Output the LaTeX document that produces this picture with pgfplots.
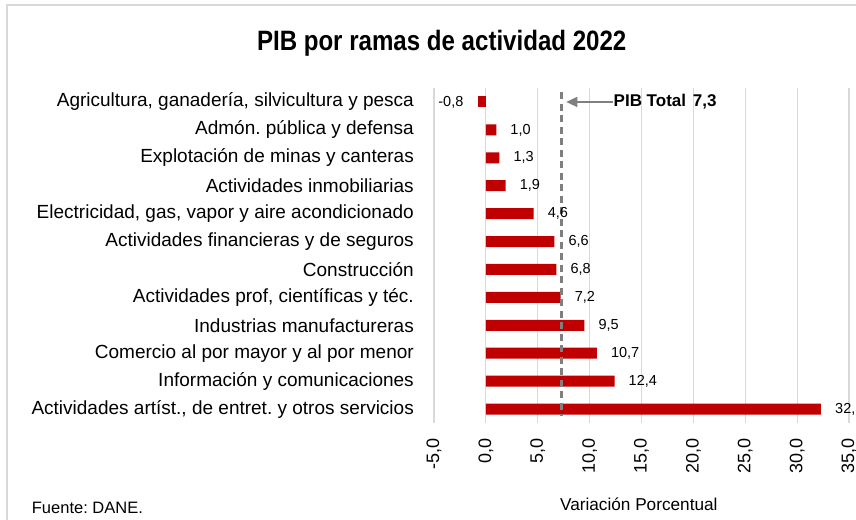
\documentclass[border=0pt]{standalone}
\usepackage{fontspec}
\setmainfont{Liberation Sans}
\newfontfamily\titlefont[FakeStretch=0.86]{Liberation Sans}
\usepackage{pgfplots}
\pgfplotsset{compat=1.18}
\usetikzlibrary{arrows.meta}
\definecolor{barred}{HTML}{C00000}
\definecolor{gridgray}{HTML}{D9D9D9}
\definecolor{lineg}{HTML}{7F7F7F}

\begin{document}
\frenchspacing
\begin{tikzpicture}
\useasboundingbox (0,0) rectangle (856bp,520bp);
\draw[gridgray, line width=1.2bp] (7bp,-5bp) -- (7bp,515bp) -- (870bp,515bp);
\node[font=\titlefont\bfseries\fontsize{28bp}{30bp}\selectfont, anchor=base] at (441.7bp,469bp) {PIB por ramas de actividad 2022};
\node[font=\fontsize{16.5bp}{18bp}\selectfont, anchor=base west, inner sep=0pt] at (31.7bp,7bp) {Fuente: DANE.};
\node[font=\fontsize{17.2bp}{19bp}\selectfont, anchor=base, inner sep=0pt] at (638.8bp,10bp) {Variación Porcentual};

\begin{axis}[
 at={(434bp,97bp)}, anchor=south west,
 scale only axis, width=415bp, height=335bp,
 xmin=-5, xmax=35, ymin=-0.5, ymax=11.5, y dir=reverse,
 xtick={-5,0,...,35}, ytick={0,...,11},
 yticklabels={
  {Agricultura, ganadería, silvicultura y pesca},
  {Admón. pública y defensa},
  {Explotación de minas y canteras},
  {Actividades inmobiliarias},
  {Electricidad, gas, vapor y aire acondicionado},
  {Actividades financieras y de seguros},
  {Construcción},
  {Actividades prof, científicas y téc.},
  {Industrias manufactureras},
  {Comercio al por mayor y al por menor},
  {Información y comunicaciones},
  {Actividades artíst., de entret. y otros servicios}},
 xmajorgrids, major grid style={gridgray, line width=1.2bp},
 axis line style={draw=none}, tick style={draw=none},
 /pgf/number format/fixed, /pgf/number format/fixed zerofill,
 /pgf/number format/precision=1, /pgf/number format/use comma,
 /pgf/number format/assume math mode=true,
 xticklabel style={rotate=90, anchor=east, inner sep=0pt, font=\fontsize{18bp}{20bp}\selectfont},
 xticklabel shift=15bp,
 yticklabel style={anchor=east, inner sep=0pt, font=\fontsize{19bp}{21bp}\selectfont},
 yticklabel shift=20bp,
 bar width=11bp,
 clip=false,
]
\addplot[xbar, bar shift=0pt, fill=barred, draw=none, nodes near coords,
  nodes near coords style={anchor=west, xshift=14bp, inner sep=0pt, text=black, font=\fontsize{14.5bp}{16bp}\selectfont}]
  coordinates {(1.0,1) (1.3,2) (1.9,3) (4.6,4) (6.6,5) (6.8,6) (7.2,7) (9.5,8) (10.7,9) (12.4,10) (32.3,11)};
\addplot[xbar, bar shift=0pt, fill=barred, draw=none, nodes near coords,
  nodes near coords style={anchor=east, xshift=-14bp, inner sep=0pt, text=black, font=\fontsize{14.5bp}{16bp}\selectfont}]
  coordinates {(-0.8,0)};
\addplot[sharp plot, lineg, line width=3bp, dash pattern=on 7bp off 4.5bp, mark=none]
  coordinates {(7.3,-0.35) (7.3,11.25)};
\draw[lineg, line width=1.5bp, -{Triangle[length=11bp,width=10bp]}] (axis cs:12.3,0) -- (axis cs:7.75,0);
\node[anchor=west, inner sep=0pt, font=\bfseries\fontsize{17bp}{19bp}\selectfont] at (axis cs:12.3,0) {PIB Total\hspace{0.4em}7,3};
\end{axis}
\end{tikzpicture}
\end{document}
